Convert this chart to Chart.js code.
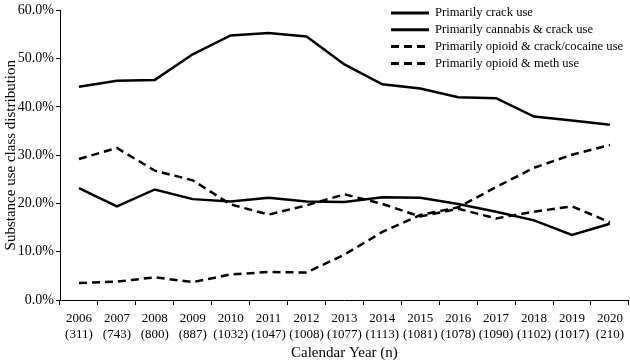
<!DOCTYPE html>
<html>
<head>
<meta charset="utf-8">
<script src="https://cdn.jsdelivr.net/npm/chart.js@4/dist/chart.umd.min.js"></script>
<style>
  html, body { margin: 0; padding: 0; background: #fff; }
  #wrap { width: 630px; height: 362px; }
</style>
</head>
<body>
<div id="wrap"><canvas id="c" width="630" height="362"></canvas></div>
<script>
// data
const years = ["2006","2007","2008","2009","2010","2011","2012","2013","2014","2015","2016","2017","2018","2019","2020"];
const counts = ["(311)","(743)","(800)","(887)","(1032)","(1047)","(1008)","(1077)","(1113)","(1081)","(1078)","(1090)","(1102)","(1017)","(210)"];
const crack = [44.2, 45.4, 45.6, 50.9, 54.8, 55.3, 54.6, 48.8, 44.7, 43.8, 42.0, 41.8, 38.0, 37.2, 36.3];
const cannabisCrack = [23.2, 19.4, 22.9, 20.9, 20.4, 21.2, 20.4, 20.3, 21.3, 21.2, 19.9, 18.3, 16.5, 13.5, 15.8];
const opioidCrack = [29.2, 31.5, 26.8, 24.8, 19.8, 17.7, 19.6, 21.9, 19.9, 17.3, 18.9, 16.9, 18.3, 19.4, 16.1];
const opioidMeth = [3.5, 3.8, 4.7, 3.7, 5.3, 5.8, 5.7, 9.4, 14.1, 17.6, 19.2, 23.4, 27.4, 30.1, 32.1];
const yTicks = [0, 10, 20, 30, 40, 50, 60];

const serif = "'Liberation Serif', 'Times New Roman', serif";
const dash = [8, 5];

// legend drawn inside the plot, top right
const legendBox = {
  id: 'legendBox',
  afterDraw(chart) {
    const ctx = chart.ctx;
    const x0 = 391, x1 = 429, tx = 435;
    ctx.save();
    ctx.font = "12.6px " + serif;
    ctx.fillStyle = "#000";
    ctx.textBaseline = "middle";
    chart.data.datasets.forEach((ds, i) => {
      const y = 13 + i * 16.8;
      ctx.beginPath();
      ctx.lineWidth = 3;
      ctx.strokeStyle = "#000";
      ctx.setLineDash(ds.borderDash || []);
      ctx.moveTo(x0, y);
      ctx.lineTo(x1, y);
      ctx.stroke();
      ctx.setLineDash([]);
      ctx.fillText(ds.label, tx, y);
    });
    ctx.restore();
  }
};

function line(label, data, dashed) {
  return {
    label: label,
    data: data,
    borderColor: "#000",
    borderWidth: 2.5,
    borderDash: dashed ? dash : [],
    pointRadius: 0,
    tension: 0,
    fill: false
  };
}

new Chart(document.getElementById("c").getContext("2d"), {
  type: 'line',
  data: {
    labels: years.map((y, i) => [y, counts[i]]),
    datasets: [
      line("Primarily crack use", crack, false),
      line("Primarily cannabis & crack use", cannabisCrack, false),
      line("Primarily opioid & crack/cocaine use", opioidCrack, true),
      line("Primarily opioid & meth use", opioidMeth, true)
    ]
  },
  options: {
    responsive: false,
    animation: false,
    layout: { padding: { top: 5, right: 1, left: 0, bottom: 0 } },
    plugins: {
      legend: { display: false },
      tooltip: { enabled: false }
    },
    scales: {
      x: {
        offset: true,
        grid: { offset: true, drawOnChartArea: false, drawTicks: true, tickLength: 5, color: "#000" },
        border: { color: "#000", width: 1 },
        ticks: { color: "#000", font: { family: serif, size: 13 }, maxRotation: 0, autoSkip: false, padding: 6 },
        title: { display: true, text: "Calendar Year (n)", color: "#000", font: { family: serif, size: 15 }, padding: { top: 4, bottom: 0 } },
        afterFit(scale) { scale.height = 62; }
      },
      y: {
        min: 0,
        max: 60,
        afterBuildTicks(scale) { scale.ticks = yTicks.map(v => ({ value: v })); },
        grid: { drawOnChartArea: false, drawTicks: true, tickLength: 4, color: "#000" },
        border: { color: "#000", width: 1 },
        ticks: { color: "#000", font: { family: serif, size: 14 }, padding: 2, callback: v => v.toFixed(1) + "%" },
        title: { display: true, text: "Substance use class distribution", color: "#000", font: { family: serif, size: 15 }, padding: { top: 2, bottom: 2 } },
        afterFit(scale) { scale.width = 60; }
      }
    }
  },
  plugins: [legendBox]
});
</script>
</body>
</html>
